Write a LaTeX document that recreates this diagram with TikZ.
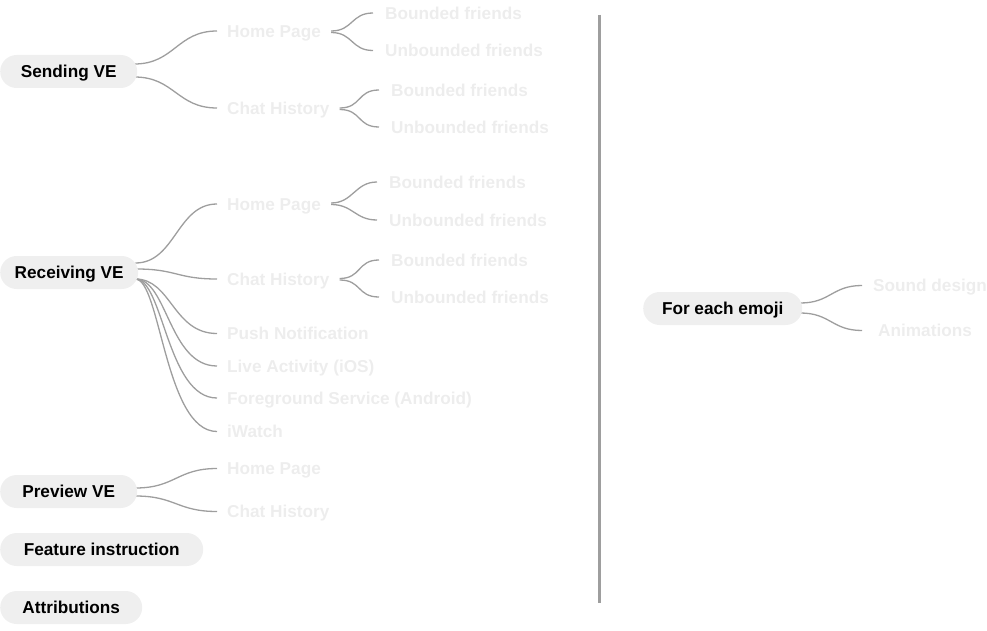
\documentclass[tikz,border=0pt]{standalone}
\usepackage{fontspec}
\setmainfont{Liberation Sans}
\usetikzlibrary{calc,backgrounds}
\definecolor{pillfill}{HTML}{EFEFEF}
\definecolor{faint}{HTML}{EDEDED}
\definecolor{edgegray}{HTML}{9E9E9E}
\begin{document}
\begin{tikzpicture}[x=1pt,y=-1pt,
  every node/.style={font=\bfseries\fontsize{17.2}{20}\selectfont, text height=12.3pt, text depth=0pt},
  pill/.style={fill=pillfill, rounded corners=16.5pt, minimum height=33pt, inner xsep=0pt, inner ysep=0pt, text=black, anchor=west},
  lbl/.style={anchor=west, inner xsep=10pt, inner ysep=2pt, text=faint},
  sublbl/.style={anchor=west, inner xsep=12pt, inner ysep=2pt, text=faint},
  link/.style={draw=edgegray, line width=1.3pt},
  mm/.style 2 args={to path={.. controls ($(\tikztostart)+(#1,0)$) and ($(\tikztotarget)+(-#2,0)$) .. (\tikztotarget)}}
]
\useasboundingbox (0,0) rectangle (987,631);

% root pills
\node[pill, minimum width=137pt] (snd) at (0,71.5) {Sending VE};
\node[pill, minimum width=138pt] (rcv) at (0,272.5) {Receiving VE};
\node[pill, minimum width=137pt] (prv) at (0,491.5) {Preview VE};
\node[pill, minimum width=203pt] (fea) at (0,549.5) {Feature instruction};
\node[pill, minimum width=142pt] (att) at (0,607.5) {Attributions};
\node[pill, minimum width=159pt] (emo) at (643,308.5) {For each emoji};

% Sending VE branch
\node[lbl] (shp) at (217,31) {Home Page};
\node[lbl] (sch) at (217,108) {Chat History};
\node[sublbl] (shpb) at (373,13) {Bounded friends};
\node[sublbl] (shpu) at (373,50.5) {Unbounded friends};
\node[sublbl] (schb) at (379,90) {Bounded friends};
\node[sublbl] (schu) at (379,127) {Unbounded friends};

% Receiving VE branch
\node[lbl] (rhp) at (217,204) {Home Page};
\node[lbl] (rch) at (217,279) {Chat History};
\node[lbl] (rpn) at (217,333.5) {Push Notification};
\node[lbl] (rla) at (217,366) {Live Activity (iOS)};
\node[lbl] (rfs) at (217,398) {Foreground Service (Android)};
\node[lbl] (riw) at (217,431.5) {iWatch};
\node[sublbl] (rhpb) at (377,182) {Bounded friends};
\node[sublbl] (rhpu) at (377,220) {Unbounded friends};
\node[sublbl] (rchb) at (379,260) {Bounded friends};
\node[sublbl] (rchu) at (379,297) {Unbounded friends};

% Preview VE branch
\node[lbl] (php) at (217,468.5) {Home Page};
\node[lbl] (pch) at (217,511.5) {Chat History};

% For each emoji branch
\node[sublbl, inner xsep=11pt] (esd) at (862,285.5) {Sound design};
\node[sublbl, inner xsep=16pt] (ean) at (862,330.5) {Animations};

% divider
\coordinate (dtop) at (599,15);
\coordinate (dbot) at (599,603);
\draw[draw=edgegray, line width=3pt] (dtop) -- (dbot);

\begin{scope}[on background layer]
% Sending
\draw[link] ($(snd.east)+(-3,-7.5)$) to[mm={40}{40}] (shp.west);
\draw[link] ($(snd.east)+(-3,5.5)$) to[mm={40}{40}] (sch.west);
\draw[link] ($(shp.east)+(0,0)$) to[mm={22}{22}] (shpb.west);
\draw[link] ($(shp.east)+(0,1.5)$) to[mm={22}{22}] (shpu.west);
\draw[link] ($(sch.east)+(0,0)$) to[mm={22}{22}] (schb.west);
\draw[link] ($(sch.east)+(0,1.5)$) to[mm={22}{22}] (schu.west);
% Receiving
\draw[link] ($(rcv.east)+(-3,-9.5)$) to[mm={40}{40}] (rhp.west);
\draw[link] ($(rcv.east)+(-2,-3.5)$) to[mm={40}{40}] (rch.west);
\draw[link] ($(rcv.east)+(-3,6.5)$) to[mm={36}{44}] (rpn.west);
\draw[link] ($(rcv.east)+(-3,6.5)$) to[mm={32}{48}] (rla.west);
\draw[link] ($(rcv.east)+(-3,6.5)$) to[mm={28}{50}] (rfs.west);
\draw[link] ($(rcv.east)+(-3,6.5)$) to[mm={25}{52}] (riw.west);
\draw[link] ($(rhp.east)+(0,-1)$) to[mm={22}{22}] (rhpb.west);
\draw[link] ($(rhp.east)+(0,0.5)$) to[mm={22}{22}] (rhpu.west);
\draw[link] ($(rch.east)+(0,-0.5)$) to[mm={22}{22}] (rchb.west);
\draw[link] ($(rch.east)+(0,1)$) to[mm={22}{22}] (rchu.west);
% Preview
\draw[link] ($(prv.east)+(-2,-3.5)$) to[mm={40}{40}] (php.west);
\draw[link] ($(prv.east)+(-2,4.5)$) to[mm={40}{40}] (pch.west);
% Emoji
\draw[link] ($(emo.east)+(-2,-5.5)$) to[mm={30}{30}] (esd.west);
\draw[link] ($(emo.east)+(-2,4.5)$) to[mm={30}{30}] (ean.west);
\end{scope}
\end{tikzpicture}
\end{document}
